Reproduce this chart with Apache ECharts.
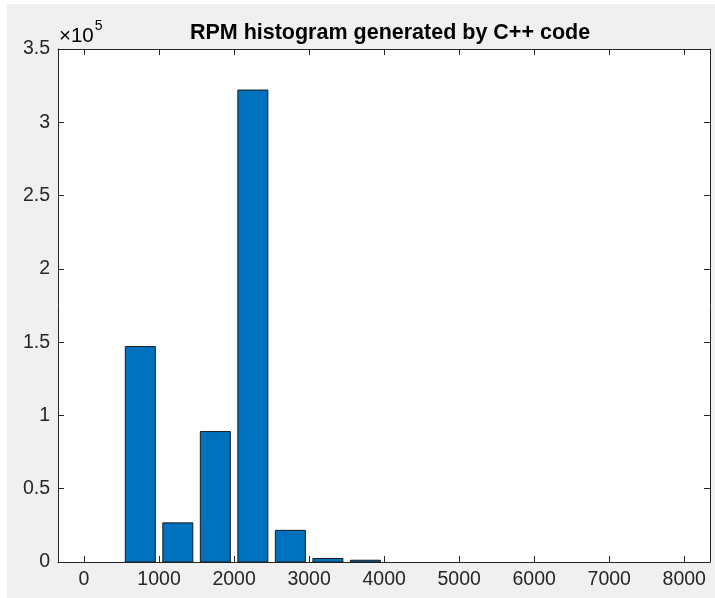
<!DOCTYPE html>
<html lang="en">
<head>
    <meta charset="UTF-8">
    <title>RPM histogram</title>
    <style>
        html, body { margin: 0; padding: 0; background: #fff; }
        #chart { width: 715px; height: 598px; }
    </style>
</head>
<body>
<div id="chart"></div>
<script src="https://cdn.jsdelivr.net/npm/echarts@6/dist/echarts.min.js"></script>
<script>
    // bin centres (rpm) and counts
    var binCenters = [750, 1250, 1750, 2250, 2750, 3250, 3750];
    var counts = [147000, 26700, 89000, 322000, 21600, 2400, 1200];
    var binWidth = 500;
    var xTicks = [0, 1000, 2000, 3000, 4000, 5000, 6000, 7000, 8000];

    var axisColor = '#262626';
    var font = 'Liberation Sans, Arial, sans-serif';

    var barData = [];
    for (var i = 0; i < binCenters.length; i++) {
        var half = binWidth * 0.8 / 2;
        barData.push([binCenters[i] - half, binCenters[i] + half, counts[i]]);
    }

    var chart = echarts.init(document.getElementById('chart'));

    var xBase = {
        type: 'value',
        min: -347,
        max: 8343,
        splitLine: { show: false },
        axisLine: { show: true, onZero: false, lineStyle: { color: axisColor, width: 1 } },
        axisTick: { show: true, inside: true, length: 6, customValues: xTicks, lineStyle: { color: axisColor } }
    };
    var yBase = {
        type: 'value',
        min: 0,
        max: 350000,
        interval: 50000,
        splitLine: { show: false },
        axisLine: { show: true, onZero: false, lineStyle: { color: axisColor, width: 1 } },
        axisTick: { show: true, inside: true, length: 6, lineStyle: { color: axisColor } }
    };

    chart.setOption({
        backgroundColor: '#fff',
        animation: false,
        title: {
            text: 'RPM histogram generated by C++ code',
            left: 385,
            textAlign: 'center',
            top: 17,
            textStyle: { fontFamily: font, fontSize: 21.5, fontWeight: 'bold', color: '#000' }
        },
        grid: {
            left: 58, right: 5, top: 49, bottom: 36,
            show: true, backgroundColor: '#fff', borderWidth: 0
        },
        xAxis: [
            Object.assign({}, xBase, {
                position: 'bottom',
                axisLabel: {
                    customValues: xTicks, margin: 8,
                    fontFamily: font, fontSize: 19.5, color: axisColor,
                    formatter: function (v) { return String(v); }
                }
            }),
            Object.assign({}, xBase, { position: 'top', axisLabel: { show: false } })
        ],
        yAxis: [
            Object.assign({}, yBase, {
                position: 'left',
                axisLabel: {
                    margin: 8, fontFamily: font, fontSize: 19.5, color: axisColor,
                    formatter: function (v) { return String(v / 100000); }
                }
            }),
            Object.assign({}, yBase, { position: 'right', axisLabel: { show: false } })
        ],
        graphic: [{
            // grey figure background, the screenshot has a thin white margin top/left
            type: 'rect',
            z: -10,
            silent: true,
            shape: { x: 7, y: 4, width: 720, height: 600 },
            style: { fill: '#f0f0f0' }
        }, {
            type: 'text',
            left: 59,
            top: 19,
            style: {
                text: '{a|×10}{b|5}',
                rich: {
                    a: { fontFamily: font, fontSize: 20.5, color: axisColor, padding: [10, 0, 0, 0] },
                    b: { fontFamily: font, fontSize: 14, color: axisColor, padding: [0, 0, 10, 1] }
                }
            }
        }],
        series: [{
            type: 'custom',
            data: barData,
            encode: { x: [0, 1], y: 2 },
            renderItem: function (params, api) {
                var p0 = api.coord([api.value(0), api.value(2)]);
                var p1 = api.coord([api.value(1), 0]);
                return {
                    type: 'rect',
                    shape: { x: p0[0], y: p0[1], width: p1[0] - p0[0], height: p1[1] - p0[1] },
                    style: { fill: '#0072BD', stroke: '#1a1a1a', lineWidth: 1 }
                };
            }
        }]
    });
</script>
</body>
</html>
